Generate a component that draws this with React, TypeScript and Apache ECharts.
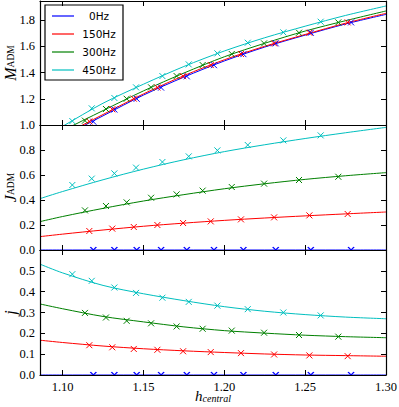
import React, { useEffect, useRef } from 'react';
import * as echarts from 'echarts';

const FREQS = ['0Hz', '150Hz', '300Hz', '450Hz'];
const COLORS = ['#0000ff', '#ff0000', '#008000', '#00bfbf'];

// x positions of the fitted curves
const H_LINE = [1.086, 1.1, 1.125, 1.15, 1.175, 1.2, 1.225, 1.25, 1.275, 1.3];

// marker x positions (h_central) per frequency
const H_0 = [1.119, 1.132, 1.1458, 1.1609, 1.1768, 1.1936, 1.2118, 1.2318, 1.2535, 1.2784];
const H_150 = [1.1165, 1.1307, 1.144, 1.1586, 1.1745, 1.1916, 1.2103, 1.2308, 1.2526, 1.2763];
const H_300 = [1.1138, 1.1268, 1.1396, 1.1547, 1.1705, 1.1866, 1.2046, 1.2246, 1.2462, 1.2705];
const H_450 = [1.106, 1.118, 1.132, 1.1454, 1.1617, 1.178, 1.1957, 1.2145, 1.2365, 1.2596];

// M_ADM curves
const M_LINE_0 = [0.81, 0.91, 1.07, 1.228, 1.365, 1.488, 1.594, 1.685, 1.77, 1.843];
const M_LINE_150 = [0.82, 0.92, 1.08, 1.237, 1.376, 1.497, 1.6, 1.69, 1.776, 1.851];
const M_LINE_300 = [0.85, 0.955, 1.11, 1.26, 1.396, 1.52, 1.623, 1.716, 1.795, 1.869];
const M_LINE_450 = [0.89, 0.99, 1.166, 1.311, 1.446, 1.564, 1.665, 1.753, 1.835, 1.907];
// M_ADM markers
const M_0 = [1.025, 1.118, 1.2, 1.285, 1.371, 1.456, 1.54, 1.622, 1.703, 1.782];
const M_150 = [1.027, 1.12, 1.201, 1.286, 1.372, 1.457, 1.541, 1.622, 1.703, 1.782];
const M_300 = [1.033, 1.122, 1.2, 1.287, 1.373, 1.457, 1.541, 1.622, 1.703, 1.782];
const M_450 = [1.03, 1.127, 1.206, 1.287, 1.373, 1.462, 1.546, 1.627, 1.706, 1.787];

// J_ADM curves
const J_LINE_0 = [0, 0, 0, 0, 0, 0, 0, 0, 0, 0];
const J_LINE_150 = [0.107, 0.127, 0.16, 0.19, 0.215, 0.237, 0.256, 0.273, 0.289, 0.304];
const J_LINE_300 = [0.227, 0.268, 0.333, 0.392, 0.443, 0.49, 0.53, 0.565, 0.594, 0.619];
const J_LINE_450 = [0.411, 0.468, 0.562, 0.647, 0.722, 0.787, 0.842, 0.892, 0.938, 0.981];
// J_ADM markers
const J_0 = [0, 0, 0, 0, 0, 0, 0, 0, 0, 0];
const J_150 = [0.152, 0.171, 0.184, 0.2, 0.216, 0.229, 0.245, 0.261, 0.277, 0.288];
const J_300 = [0.317, 0.352, 0.381, 0.418, 0.445, 0.475, 0.504, 0.531, 0.56, 0.586];
const J_450 = [0.52, 0.571, 0.613, 0.659, 0.704, 0.749, 0.797, 0.84, 0.877, 0.917];

// j curves
const SJ_LINE_0 = [0, 0, 0, 0, 0, 0, 0, 0, 0, 0];
const SJ_LINE_150 = [0.167, 0.156, 0.139, 0.126, 0.116, 0.108, 0.101, 0.096, 0.093, 0.09];
const SJ_LINE_300 = [0.341, 0.318, 0.281, 0.255, 0.231, 0.213, 0.201, 0.191, 0.184, 0.179];
const SJ_LINE_450 = [0.532, 0.49, 0.43, 0.39, 0.357, 0.328, 0.306, 0.29, 0.278, 0.27];
// j markers
const SJ_0 = [0, 0, 0, 0, 0, 0, 0, 0, 0, 0];
const SJ_150 = [0.143, 0.133, 0.125, 0.121, 0.114, 0.11, 0.105, 0.0985, 0.094, 0.0905];
const SJ_300 = [0.298, 0.276, 0.26, 0.248, 0.233, 0.222, 0.213, 0.203, 0.192, 0.184];
const SJ_450 = [0.484, 0.452, 0.42, 0.394, 0.371, 0.351, 0.333, 0.316, 0.3, 0.286];

const Y_TICKS = [
  { min: 1.0, max: 1.945, interval: 0.2 },
  { min: 0, max: 1.0, interval: 0.2 },
  { min: 0, max: 0.6, interval: 0.1 },
];

const SERIF = 'Liberation Serif';
const X_SYMBOL = 'path://M0,0L10,10M10,0L0,10';
const HALF_X_SYMBOL = 'path://M0,0L5,5L10,0';

const zip = (xs: number[], ys: number[]) => xs.map((x, i) => [x, ys[i]]);

export default function App() {
  const ref = useRef<HTMLDivElement>(null);
  useEffect(() => {
    const chart = echarts.init(ref.current!, null, { renderer: 'svg' });

    const H_MARK = [H_0, H_150, H_300, H_450];
    const panels = [
      { lines: [M_LINE_0, M_LINE_150, M_LINE_300, M_LINE_450], marks: [M_0, M_150, M_300, M_450] },
      { lines: [J_LINE_0, J_LINE_150, J_LINE_300, J_LINE_450], marks: [J_0, J_150, J_300, J_450] },
      { lines: [SJ_LINE_0, SJ_LINE_150, SJ_LINE_300, SJ_LINE_450], marks: [SJ_0, SJ_150, SJ_300, SJ_450] },
    ];

    const gridBase = { left: 40, right: 13, containLabel: false, outerBoundsMode: 'none' };
    const grids = [
      { ...gridBase, top: 1, height: 124 },
      { ...gridBase, top: 125, height: 125 },
      { ...gridBase, top: 250, height: 125 },
    ];

    const axisLine = { show: true, onZero: false, lineStyle: { color: '#000', width: 1.2 } };
    const axisTick = { show: true, inside: true, length: 5, lineStyle: { color: '#000', width: 1 } };
    const labelStyle = { fontFamily: SERIF, fontSize: 12.5, color: '#000' };

    const xAxes: any[] = [];
    for (let pos of ['bottom', 'top']) {
      for (let g = 0; g < 3; g++) {
        const showLabels = pos === 'bottom' && g === 2;
        const ax: any = {
          type: 'value', gridIndex: g, position: pos,
          min: 1.086, max: 1.3, minInterval: 0.05, maxInterval: 0.05, splitNumber: 5,
          z: 10, axisLine, axisTick, splitLine: { show: false },
          axisLabel: { show: showLabels, showMinLabel: false, margin: 5, ...labelStyle, formatter: (v: number) => v.toFixed(2) },
        };
        if (showLabels) {
          ax.name = '{i|h}{s|central}';
          ax.nameLocation = 'middle';
          ax.nameGap = 13;
          ax.nameMoveOverlap = false;
          ax.nameTextStyle = {
            rich: {
              i: { fontFamily: SERIF, fontStyle: 'italic', fontSize: 15, color: '#000', lineHeight: 15, verticalAlign: 'top' },
              s: { fontFamily: SERIF, fontStyle: 'italic', fontSize: 10, color: '#000', lineHeight: 15, verticalAlign: 'bottom' },
            },
          };
        }
        xAxes.push(ax);
      }
    }

    const yNames = ['{i|M}{s|ADM}', '{i|J}{s|ADM}', '{i|j}'];
    const yAxes: any[] = [];
    for (let pos of ['left', 'right']) {
      for (let g = 0; g < 3; g++) {
        const t = Y_TICKS[g];
        const showLabels = pos === 'left';
        const ax: any = {
          type: 'value', gridIndex: g, position: pos,
          min: t.min, max: t.max, interval: t.interval,
          z: 10, axisLine, axisTick, splitLine: { show: false },
          axisLabel: {
            show: showLabels, showMaxLabel: false, showMinLabel: true, margin: 5, ...labelStyle,
            formatter: (v: number) => v.toFixed(1),
          },
        };
        if (showLabels) {
          ax.name = yNames[g];
          ax.nameLocation = 'middle';
          ax.nameRotate = 90;
          ax.nameGap = 24;
          ax.nameMoveOverlap = false;
          ax.nameTextStyle = {
            rich: {
              i: { fontFamily: SERIF, fontStyle: 'italic', fontSize: 16, color: '#000', lineHeight: 14, verticalAlign: 'top' },
              s: { fontFamily: SERIF, fontSize: 9.5, color: '#000', lineHeight: 14, verticalAlign: 'bottom' },
            },
          };
        }
        yAxes.push(ax);
      }
    }

    const series: any[] = [];
    panels.forEach((p, g) => {
      FREQS.forEach((name, k) => {
        series.push({
          type: 'line', name, xAxisIndex: g, yAxisIndex: g,
          data: zip(H_LINE, p.lines[k]), smooth: 0.3, showSymbol: false, symbol: 'none',
          lineStyle: { color: COLORS[k], width: 1 }, itemStyle: { color: COLORS[k] },
          clip: true, z: 2,
        });
      });
    });
    panels.forEach((p, g) => {
      FREQS.forEach((name, k) => {
        const zero = p.marks[k].every((v) => v === 0);
        series.push({
          type: 'scatter', name, xAxisIndex: g, yAxisIndex: g,
          data: zip(H_MARK[k], p.marks[k]),
          symbol: zero ? HALF_X_SYMBOL : X_SYMBOL,
          symbolSize: zero ? [6, 3] : 6,
          symbolOffset: zero ? [0, -1.5] : [0, 0],
          itemStyle: { color: 'rgba(0,0,0,0)', borderColor: COLORS[k], borderWidth: 1, opacity: 1 },
          z: 3,
        });
      });
    });

    const option: any = {
      animation: false,
      backgroundColor: '#fff',
      grid: grids,
      xAxis: xAxes,
      yAxis: yAxes,
      legend: {
        orient: 'vertical', left: 45, top: 5,
        padding: [5, 4, 4, 7],
        backgroundColor: '#fff', borderColor: '#000', borderWidth: 1.2, borderRadius: 0,
        itemWidth: 22, itemHeight: 1.2, itemGap: 6,
        icon: 'rect',
        data: FREQS.map((n, k) => ({ name: n, itemStyle: { color: COLORS[k] } })),
        formatter: (n: string) => '{c|' + n + '}',
        textStyle: {
          fontFamily: 'DejaVu Sans', fontSize: 10.5, color: '#000', lineHeight: 12,
          rich: { c: { width: 40, align: 'center', fontFamily: 'DejaVu Sans', fontSize: 10.5, lineHeight: 12 } },
        },
        selectedMode: false,
      },
      series,
    };
    chart.setOption(option);
    return () => chart.dispose();
  }, []);
  return (
    <div
      ref={ref}
      style={{ position: 'absolute', left: 0, top: 0, width: 399, height: 407, background: '#fff' }}
    />
  );
}
